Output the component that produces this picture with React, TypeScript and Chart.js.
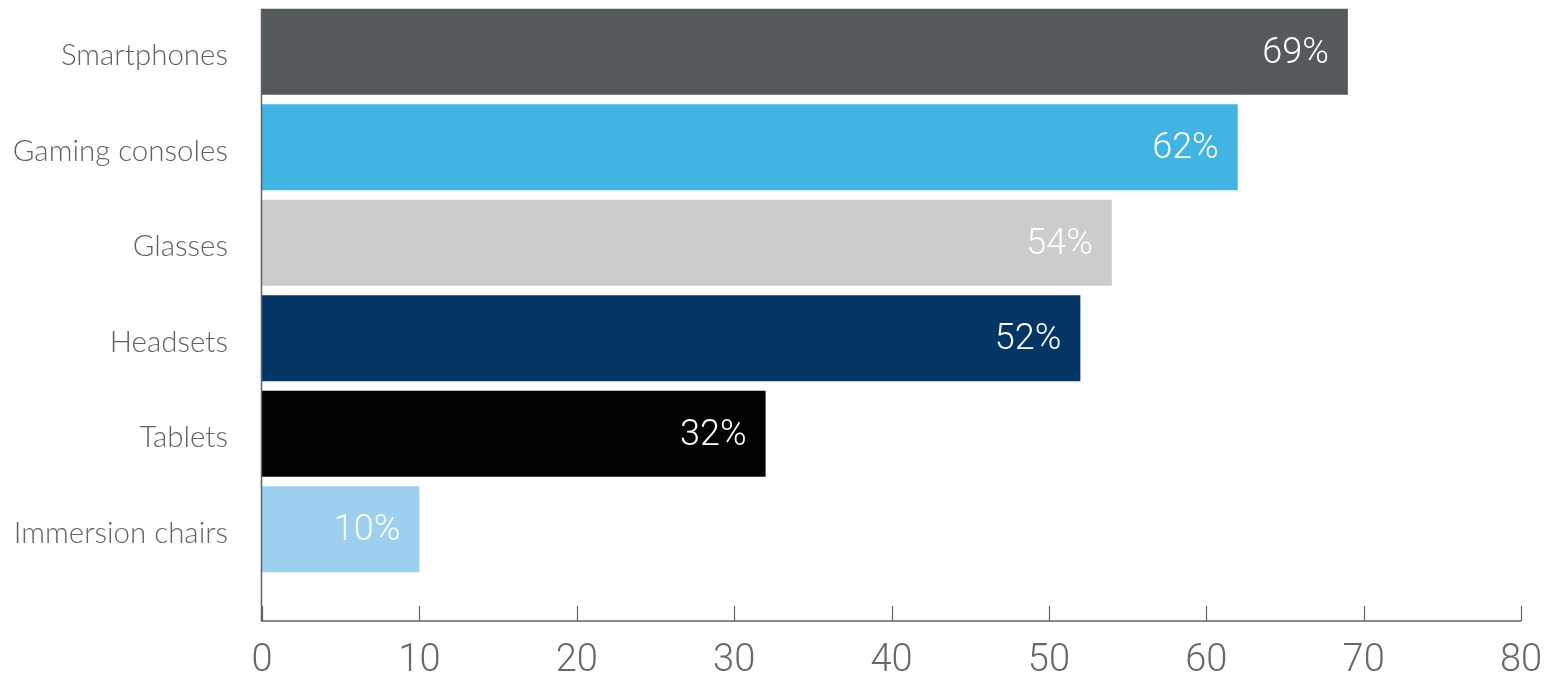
import React, { useEffect, useRef } from "react";
import { Chart, registerables } from "chart.js";

Chart.register(...registerables);

const categories = ["Smartphones", "Gaming consoles", "Glasses", "Headsets", "Tablets", "Immersion chairs"];
const values = [69, 62, 54, 52, 32, 10];
const barColors = ["#54595c", "#42b4e2", "#cdcbcc", "#033664", "#020202", "#9dd0ee"];
const xTicks = [0, 10, 20, 30, 40, 50, 60, 70, 80];

const axisPlugin = {
  id: "customAxis",
  afterDraw(chart: any) {
    const { ctx, chartArea } = chart;
    const xs = chart.scales.x;
    const axisY = chartArea.bottom + 44;
    const meta = chart.getDatasetMeta(0);
    const first = meta.data[0];
    const topY = first.y - first.height / 2;
    ctx.save();
    ctx.strokeStyle = "#5d6265";
    ctx.lineWidth = 1.5;
    ctx.beginPath();
    ctx.moveTo(xs.getPixelForValue(0) - 0.5, topY);
    ctx.lineTo(xs.getPixelForValue(0) - 0.5, axisY);
    ctx.lineTo(xs.getPixelForValue(80), axisY);
    ctx.stroke();
    ctx.lineWidth = 1.2;
    xTicks.forEach((t) => {
      const px = Math.round(xs.getPixelForValue(t)) + 0.5;
      ctx.beginPath();
      ctx.moveTo(px, axisY - 15);
      ctx.lineTo(px, axisY);
      ctx.stroke();
    });
    ctx.restore();
  },
};

const labelPlugin = {
  id: "barLabels",
  afterDatasetsDraw(chart: any) {
    const { ctx } = chart;
    const meta = chart.getDatasetMeta(0);
    ctx.save();
    ctx.fillStyle = "#ffffff";
    ctx.font = "300 36px Roboto";
    ctx.textAlign = "right";
    ctx.textBaseline = "middle";
    meta.data.forEach((bar: any, i: number) => {
      ctx.fillText(values[i] + "%", bar.x - 19, bar.y + 2);
    });
    ctx.restore();
  },
};

export default function App() {
  const ref = useRef<HTMLCanvasElement>(null);
  useEffect(() => {
    if (!ref.current) return;
    const chart = new Chart(ref.current, {
      type: "bar",
      data: {
        labels: categories,
        datasets: [
          {
            data: values,
            backgroundColor: barColors,
            borderWidth: 0,
            categoryPercentage: 1,
            barPercentage: 0.9,
          },
        ],
      },
      options: {
        indexAxis: "y",
        animation: false,
        responsive: false,
        maintainAspectRatio: false,
        layout: { padding: { top: 4, right: 24, left: 0, bottom: 0 } },
        plugins: { legend: { display: false }, tooltip: { enabled: false } },
        scales: {
          x: {
            min: 0,
            max: 80,
            afterBuildTicks: (scale: any) => {
              scale.ticks = xTicks.map((v) => ({ value: v }));
            },
            afterFit: (scale: any) => {
              scale.height = 99;
              scale.paddingLeft = 0;
              scale.paddingRight = 0;
            },
            border: { display: false },
            grid: { display: false, drawTicks: false },
            ticks: {
              padding: 62,
              color: "#65696c",
              font: { family: "Roboto", size: 38, weight: "300" },
              maxRotation: 0,
            },
          },
          y: {
            afterFit: (scale: any) => {
              scale.width = 262;
              scale.paddingTop = 0;
              scale.paddingBottom = 0;
            },
            border: { display: false },
            grid: { display: false, drawTicks: false },
            ticks: {
              padding: 34,
              labelOffset: 4,
              color: "#5f6366",
              font: { family: "Lato", size: 29.5, weight: "300" },
            },
          },
        },
      },
      plugins: [axisPlugin, labelPlugin],
    });
    return () => chart.destroy();
  }, []);
  return (
    <div style={{ position: "fixed", left: 0, top: 0, width: 1545, height: 676, background: "#fff" }}>
      <canvas ref={ref} width={1545} height={676} style={{ width: 1545, height: 676 }} />
    </div>
  );
}
